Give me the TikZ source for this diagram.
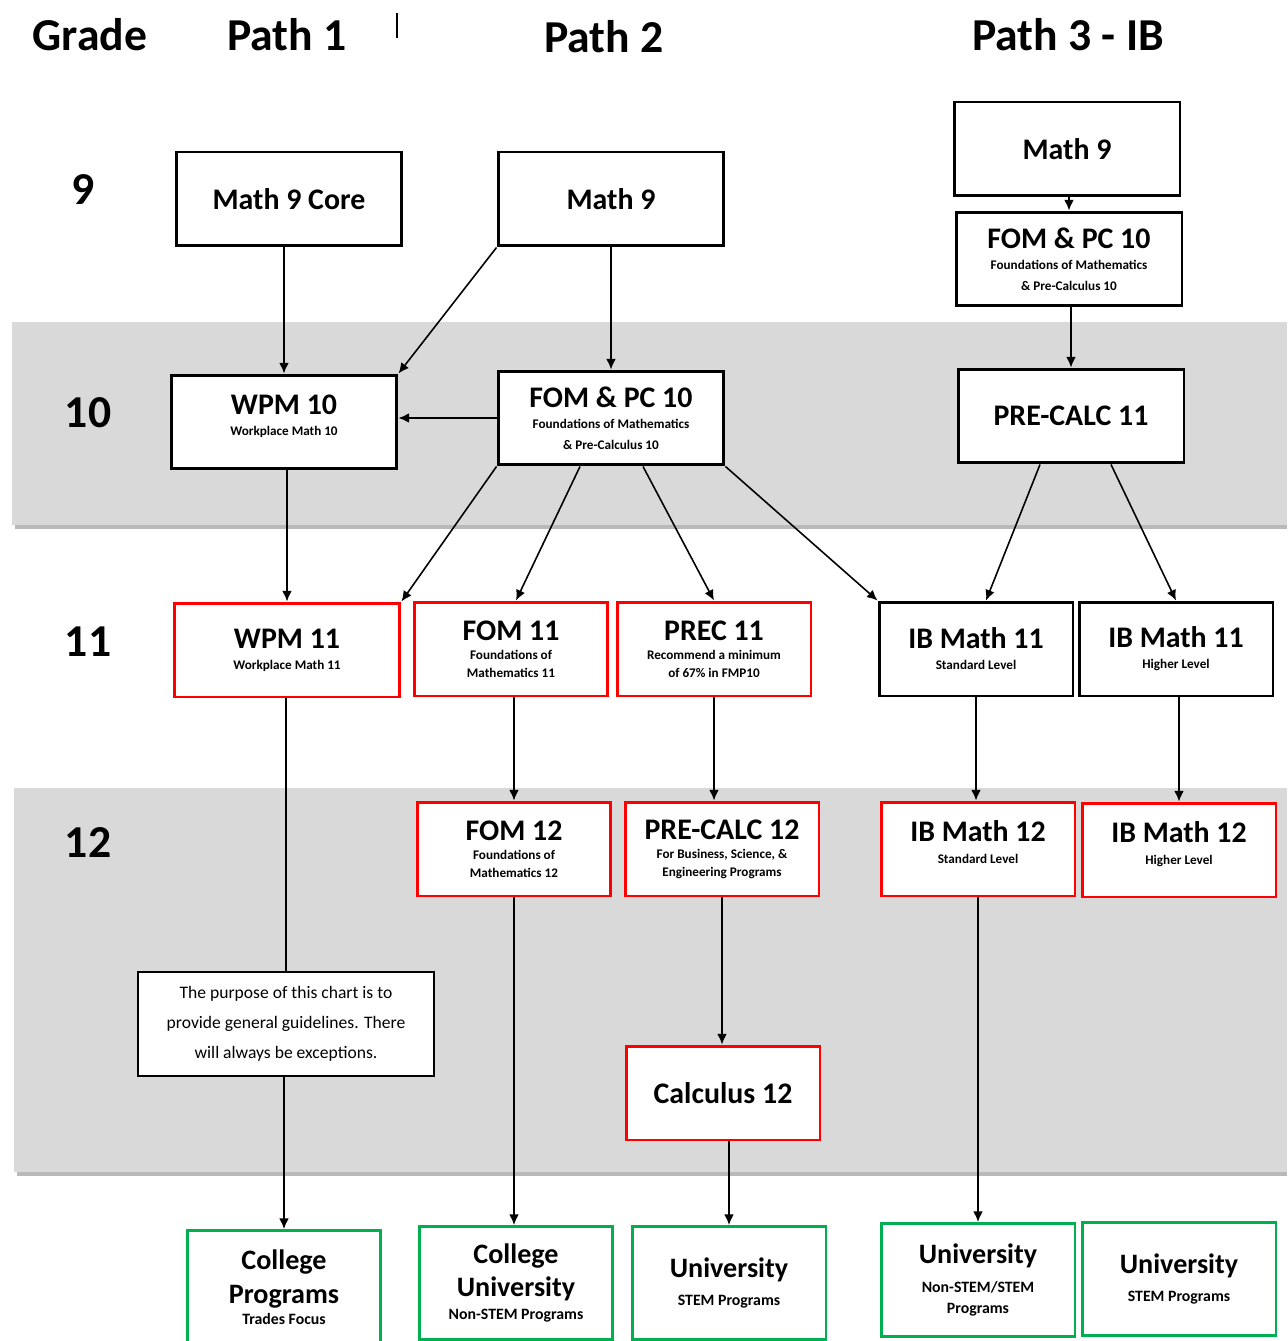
\documentclass[tikz,border=0pt]{standalone}
\usepackage{fontspec}
\setmainfont{Carlito}
\usepackage{xcolor}
\usepackage{tikz}
\usetikzlibrary{positioning}
\usetikzlibrary{shapes.geometric, arrows.meta}
\definecolor{bandgray}{RGB}{217,217,217}
\definecolor{shadowgray}{RGB}{185,185,185}
\definecolor{boxred}{RGB}{255,0,0}
\definecolor{boxgreen}{RGB}{0,176,80}
\newcommand{\mainlbl}[1]{{\fontsize{17}{20}\selectfont\bfseries #1}}
\newcommand{\goallbl}[1]{{\fontsize{16}{20}\selectfont\bfseries #1}}
\tikzset{
    heading/.style={font=\fontsize{26}{30}\selectfont\bfseries},
    grade/.style={font=\fontsize{26}{30}\selectfont\bfseries},
    course/.style={draw, rectangle, line width=1.7pt, fill=white, minimum height=1.88cm, minimum width=4.52cm, align=center, font=\fontsize{7.5}{12}\selectfont\bfseries, inner sep=2pt},
    narrow/.style={course, minimum width=3.88cm},
    redbox/.style={draw=boxred},
    goal/.style={draw=boxgreen, rectangle, line width=1.7pt, fill=white, minimum height=2.26cm, minimum width=3.88cm, align=center, font=\fontsize{9}{12}\selectfont\bfseries, inner sep=2pt},
    note/.style={draw, rectangle, line width=0.8pt, fill=white, minimum height=2.08cm, minimum width=5.92cm, align=center, font=\fontsize{10}{17}\selectfont},
    band/.style={fill=bandgray},
    bandshadow/.style={fill=shadowgray},
    arrow/.style={line width=0.9pt,-{Latex[length=6pt,width=5.5pt]}},
    link/.style={line width=0.9pt}
}

\begin{document}
\begin{tikzpicture}[x=0.02cm, y=-0.02cm]
\useasboundingbox (0,0) rectangle (1287,1341);

% grade bands
\fill [bandshadow] (15,326) rectangle (1287,529);
\fill [band] (12,322) rectangle (1287,525);
\fill [bandshadow] (17,792) rectangle (1287,1176);
\fill [band] (14,788) rectangle (1287,1172);

% headings
\node [heading] (hgrade) at (90,35) {Grade};
\node [heading] (hpath1) at (287,35) {Path 1};
\node [heading] (hpath2) at (604,37) {Path 2};
\node [heading] (hpath3) at (1068,35) {Path 3 - IB};
\draw [line width=0.6pt] (397,13) -- (397,38);

% grades
\node [grade] (g9) at (83,190) {9};
\node [grade] (g10) at (88,413) {10};
\node [grade] (g11) at (88,642) {11};
\node [grade] (g12) at (88,843) {12};

% grade 9 and 10
\node [course] (m9core) at (289,199) {\mainlbl{Math 9 Core}};
\node [course] (m9) at (611,199) {\mainlbl{Math 9}};
\node [course] (ibm9) at (1067,149) {\mainlbl{Math 9}};
\node [course] (ibfp10) at (1069,259) {\mainlbl{FOM \& PC 10}\\Foundations of Mathematics\\\& Pre-Calculus 10};
\node [course] (wpm10) at (284,422) {\mainlbl{WPM 10}\\Workplace Math 10\\[-4pt]};
\node [course] (fp10) at (611,418) {\mainlbl{FOM \& PC 10}\\Foundations of Mathematics\\\& Pre-Calculus 10};
\node [course] (pc11) at (1071,416) {\mainlbl{PRE-CALC 11}};

% grade 11
\node [course, redbox] (wpm11) at (287,650) {\mainlbl{WPM 11}\\Workplace Math 11};
\node [narrow, redbox] (fom11) at (511,649) {\mainlbl{FOM 11}\\[-1pt]Foundations of\\[-2pt]Mathematics 11};
\node [narrow, redbox] (prec11) at (714,649) {\mainlbl{PREC 11}\\[-1pt]Recommend a minimum\\[-2pt]of 67\% in FMP10};
\node [narrow] (ib11sl) at (976,649) {\mainlbl{IB Math 11}\\Standard Level};
\node [narrow] (ib11hl) at (1176,649) {\mainlbl{IB Math 11}\\Higher Level};

% grade 12
\node [narrow, redbox] (fom12) at (514,849) {\mainlbl{FOM 12}\\[-1pt]Foundations of\\[-2pt]Mathematics 12};
\node [narrow, redbox] (pc12) at (722,849) {\mainlbl{PRE-CALC 12}\\[-1pt]For Business, Science, \&\\[-2pt]Engineering Programs};
\node [narrow, redbox] (ib12sl) at (978,849) {\mainlbl{IB Math 12}\\Standard Level\\[-4pt]};
\node [narrow, redbox] (ib12hl) at (1179,850) {\mainlbl{IB Math 12}\\Higher Level\\[-4pt]};
\node [note] (remark) at (286,1024) {The purpose of this chart is to\\provide general guidelines. There\\will always be exceptions.};
\node [narrow, redbox] (calc12) at (723,1093) {\mainlbl{Calculus 12}};

% after school
\node [goal] (colprog) at (284,1287) {\goallbl{College}\\[5pt]\goallbl{Programs}\\Trades Focus};
\node [goal] (coluni) at (516,1283) {\goallbl{College}\\[4pt]\goallbl{University}\\[1pt]Non-STEM Programs};
\node [goal] (unistem) at (729,1283) {\goallbl{University}\\[4pt]STEM Programs};
\node [goal] (uninon) at (978,1280) {\goallbl{University}\\[4pt]Non-STEM/STEM\\Programs};
\node [goal] (unistemib) at (1179,1279) {\goallbl{University}\\[4pt]STEM Programs};

% connectors
\draw [arrow] (m9core.south -| wpm10.north) -- (wpm10.north);
\draw [arrow] (m9.south west) -- (wpm10.north east);
\draw [arrow] (m9.south) -- (fp10.north);
\draw [arrow] (fp10.west) -- (fp10.west -| wpm10.east);
\draw [arrow] (ibm9.south -| ibfp10.north) -- (ibfp10.north);
\draw [arrow] (ibfp10.south -| pc11.north) -- (pc11.north);
\draw [arrow] (wpm10.south -| wpm11.north) -- (wpm11.north);
\draw [arrow] (fp10.south west) -- (wpm11.north east);
\draw [arrow] ([xshift=-0.62cm]fp10.south) -- ([xshift=0.1cm]fom11.north);
\draw [arrow] ([xshift=0.64cm]fp10.south) -- (prec11.north);
\draw [arrow] (fp10.south east) -- (ib11sl.north west);
\draw [arrow] ([xshift=-0.62cm]pc11.south) -- ([xshift=0.2cm]ib11sl.north);
\draw [arrow] ([xshift=0.8cm]pc11.south) -- (ib11hl.north);
\draw [link] (wpm11.south -| remark.north) -- (remark.north);
\draw [arrow] (remark.south -| colprog.north) -- (colprog.north);
\draw [arrow] (fom11.south -| fom12.north) -- (fom12.north);
\draw [arrow] (prec11.south) -- (prec11.south |- pc12.north);
\draw [arrow] (ib11sl.south) -- (ib11sl.south |- ib12sl.north);
\draw [arrow] (ib11hl.south -| ib12hl.north) -- (ib12hl.north);
\draw [arrow] (fom12.south) -- (fom12.south |- coluni.north);
\draw [arrow] (pc12.south) -- (pc12.south |- calc12.north);
\draw [arrow] (calc12.south -| unistem.north) -- (unistem.north);
\draw [arrow] (ib12sl.south -| uninon.north) -- (uninon.north);

\end{tikzpicture}
\end{document}
